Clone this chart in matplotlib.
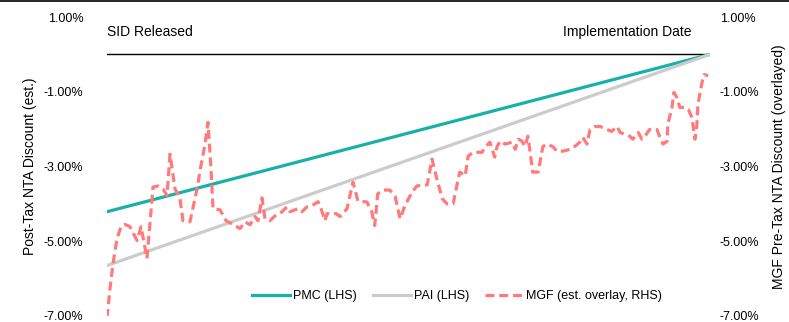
import matplotlib
matplotlib.use("Agg")
import matplotlib.pyplot as plt
from matplotlib.lines import Line2D

plt.rcParams['font.family'] = ['Liberation Sans', 'DejaVu Sans']

# timeline from SID release (0) to implementation date (100)
line_t = [0, 100]
pmc = [-4.21, 0.0]
pai = [-5.65, 0.0]

# MGF pre-tax NTA discount (est., %)
mgf_t = [0, 0.5, 1.0, 1.66, 2.32, 2.99, 3.81, 4.64, 4.98, 5.64, 6.63, 7.63, 8.46, 9.29,
         9.95, 10.45, 11.28, 12.1, 12.6, 13.76, 14.93, 15.42, 16.25, 16.75, 17.25, 17.58,
         18.74, 19.73, 20.9, 22.06, 22.89, 23.71, 24.54, 25.04, 25.7, 26.2, 27.03, 27.86,
         28.69, 29.85, 30.35, 31.67, 32.3, 33.17, 34.0, 34.99, 35.5, 36.15, 36.5, 37.31,
         37.98, 38.64, 39.8, 40.8, 41.6, 43.1, 43.9, 44.4, 44.9, 45.8, 46.9, 47.8, 48.6,
         49.4, 50.6, 51.4, 53.1, 53.9, 54.7, 55.6, 56.4, 57.4, 58.0, 58.5, 59.4, 59.9,
         60.7, 62.2, 62.7, 63.5, 64.3, 64.7, 65.2, 66.0, 67.2, 67.7, 68.2, 68.8, 69.3,
         69.8, 70.1, 70.6, 71.5, 71.8, 72.3, 73.1, 74.0, 74.6, 75.6, 76.8, 77.6, 78.4,
         78.9, 79.6, 80.1, 80.9, 81.8, 82.9, 83.7, 84.6, 85.1, 85.9, 86.7, 87.2, 88.1,
         88.7, 89.2, 90.0, 91.2, 91.7, 92.2, 92.9, 93.0, 93.7, 94.0, 94.5, 95.0, 95.9,
         96.4, 97.0, 97.5, 97.8, 98.0, 98.7, 99.0, 99.7]
mgf = [-7.05, -6.26, -5.59, -4.93, -4.61, -4.55, -4.61, -4.87, -4.98, -4.61, -5.46, -3.55,
       -3.52, -3.60, -3.78, -2.67, -3.60, -3.86, -4.45, -4.48, -3.60, -3.12, -2.40, -1.82,
       -3.07, -4.13, -4.16, -4.45, -4.55, -4.66, -4.48, -4.56, -4.34, -4.45, -3.84, -4.40,
       -4.45, -4.32, -4.26, -4.08, -4.21, -4.13, -4.21, -4.08, -4.05, -3.94, -4.13, -4.45,
       -4.26, -4.26, -4.26, -4.34, -4.13, -3.42, -3.92, -3.95, -4.21, -4.58, -3.73, -3.63,
       -3.63, -3.81, -4.40, -4.05, -3.68, -3.52, -3.49, -2.80, -3.33, -3.86, -4.00, -4.00,
       -3.52, -3.15, -3.25, -2.72, -2.62, -2.62, -2.48, -2.35, -2.75, -2.46, -2.32, -2.40,
       -2.35, -2.54, -2.27, -2.32, -2.46, -2.19, -2.54, -3.15, -3.15, -2.88, -2.46, -2.40,
       -2.48, -2.59, -2.59, -2.54, -2.46, -2.35, -2.22, -2.40, -2.01, -1.93, -1.93, -2.01,
       -2.06, -1.93, -2.09, -2.14, -2.19, -2.27, -2.09, -2.27, -2.19, -2.01, -2.01, -2.22,
       -2.40, -2.32, -1.87, -1.42, -1.02, -1.15, -1.42, -1.42, -1.47, -1.69, -2.27, -1.93,
       -1.34, -0.73, -0.54, -0.57]

yticks = [1, -1, -3, -5, -7]
ytick_labels = ['1.00%', '-1.00%', '-3.00%', '-5.00%', '-7.00%']

fig = plt.figure(figsize=(7.89, 3.22), dpi=100)
ax = fig.add_axes([107/789, 1 - 316/322, 603/789, 299/322])
ax2 = ax.twinx()

ax.plot(line_t, [0, 0], color='black', lw=1.0)
ax.plot(line_t, pmc, color='#17b1a7', lw=2.3, label='PMC (LHS)')
ax.plot(line_t, pai, color='#cccccc', lw=2.3, label='PAI (LHS)')
ax2.plot(mgf_t, mgf, color='#ff7b7b', lw=2.3, dashes=(2.8, 1.5),
         label='MGF (est. overlay, RHS)')

for a in (ax, ax2):
    a.set_xlim(0, 100)
    a.set_ylim(-7, 1)
    a.set_yticks(yticks)
    a.set_yticklabels(ytick_labels)
    a.set_xticks([])
    for s in a.spines.values():
        s.set_visible(False)
ax.tick_params(axis='y', length=0, pad=17, labelsize=9)
ax2.tick_params(axis='y', length=0, pad=7, labelsize=9)
ax.patch.set_visible(False)

ax.set_ylabel('Post-Tax NTA Discount (est.)', fontsize=10, labelpad=5)
ax2.set_ylabel('MGF Pre-Tax NTA Discount (overlayed)', fontsize=10, labelpad=9)

ax.text(0, 0.6, 'SID Released', fontsize=10, ha='left', va='center')
ax.text(97, 0.6, 'Implementation Date', fontsize=10, ha='right', va='center')

h1, l1 = ax.get_legend_handles_labels()
h2, l2 = ax2.get_legend_handles_labels()
fig.legend(h1 + h2, l1 + l2, loc='center', bbox_to_anchor=(457/789, 1 - 296/322),
           ncol=3, frameon=False, fontsize=9, handlelength=3.0,
           handletextpad=0.25, columnspacing=1.3)

fig.add_artist(Line2D([0, 1], [0.998, 0.998], transform=fig.transFigure,
                      color='black', lw=1.2))

fig.savefig('out.png', dpi=100)
